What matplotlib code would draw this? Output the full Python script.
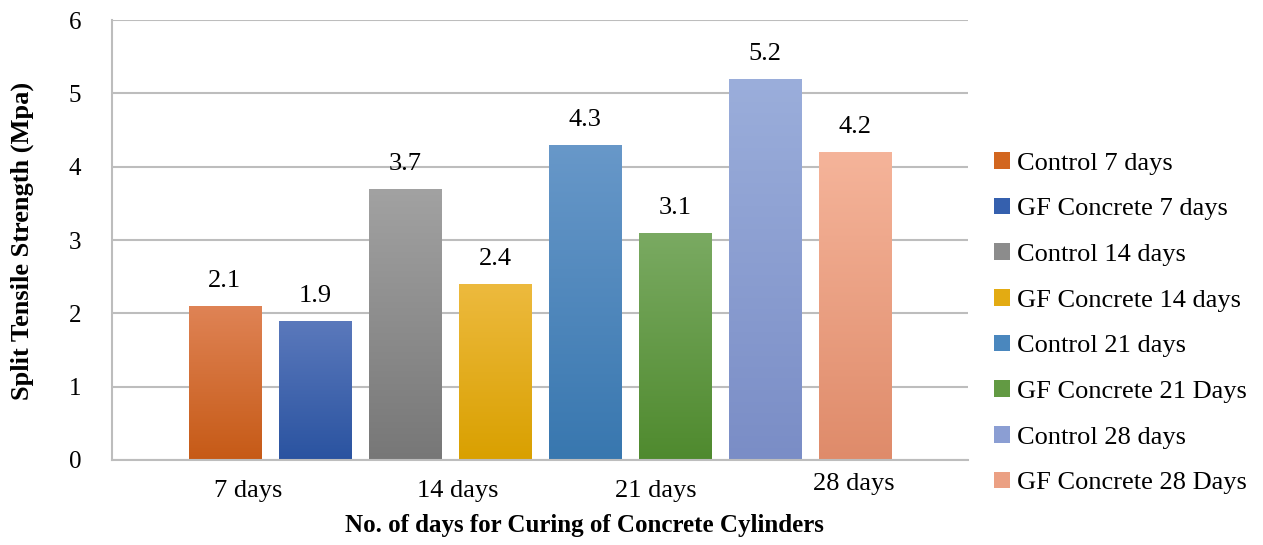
import numpy as np
import matplotlib.pyplot as plt
from matplotlib.colors import LinearSegmentedColormap
from matplotlib.patches import Patch

series = ["Control 7 days", "GF Concrete 7 days", "Control 14 days", "GF Concrete 14 days",
          "Control 21 days", "GF Concrete 21 Days", "Control 28 days", "GF Concrete 28 Days"]
strength = [2.1, 1.9, 3.7, 2.4, 4.3, 3.1, 5.2, 4.2]
group_labels = ["7 days", "14 days", "21 days", "28 days"]
group_pos = [0.26, 2.59, 4.78, 6.98]

# (top, bottom) colours for the gradient fill of each bar
top_colors = ["#DF8355", "#5B79BC", "#A2A2A2", "#EDBA3E", "#6898C9", "#7AAA62", "#9BAEDB", "#F5B49A"]
bottom_colors = ["#C65A16", "#2A53A0", "#777777", "#D9A000", "#3877AF", "#4F8A2E", "#7A8DC6", "#DF8B6A"]
legend_colors = ["#D2661F", "#3560AE", "#8C8C8C", "#E3AB12", "#4A87BE", "#629A43", "#8B9ED3", "#EBA083"]

plt.rcParams['font.family'] = ['Liberation Serif', 'DejaVu Serif']

fig = plt.figure(figsize=(12.63, 5.45), dpi=100)
ax = fig.add_axes([0.0887, 0.156, 0.6777, 0.807])

x = np.arange(len(strength))
bars = ax.bar(x, strength, width=0.8, color="none", zorder=2)

grad = np.linspace(0, 1, 256).reshape(-1, 1)
for b, top, bot in zip(bars, top_colors, bottom_colors):
    cmap = LinearSegmentedColormap.from_list("g", [bot, top])
    x0, w, h = b.get_x(), b.get_width(), b.get_height()
    im = ax.imshow(grad, extent=[x0, x0 + w, 0, h], origin="lower",
                   aspect="auto", cmap=cmap, zorder=2)
    im.set_clip_path(b)

for xi, v in zip(x, strength):
    ax.annotate(f"{v}", (xi, v), xytext=(0, 25), textcoords="offset pixels",
                ha="center", va="center", fontsize=19)

ax.set_xlim(-1.25, 8.25)
ax.set_ylim(0, 6)
ax.set_yticks(range(7))
ax.tick_params(axis="y", length=0, labelsize=18, pad=22)
ax.set_xticks([])
ax.grid(axis="y", color="#BDBDBD", linewidth=1.5, zorder=0)
ax.set_axisbelow(True)
for s in ["top", "right"]:
    ax.spines[s].set_visible(False)
for s in ["left", "bottom"]:
    ax.spines[s].set_color("#BDBDBD")
    ax.spines[s].set_linewidth(1.5)

for pos, lab in zip(group_pos, group_labels):
    dy = -31 if lab != "28 days" else -24
    ax.annotate(lab, (pos, 0), xytext=(0, dy), textcoords="offset pixels",
                ha="center", va="center", fontsize=19)

fig.text(0.463, 0.035, "No. of days for Curing of Concrete Cylinders",
         ha="center", va="center", fontsize=18, fontweight="bold")
fig.text(0.018, 0.558, "Split Tensile Strength (Mpa)", rotation=90,
         ha="center", va="center", fontsize=19, fontweight="bold")

handles = [Patch(facecolor=c, edgecolor="none") for c in legend_colors]
fig.legend(handles, series, loc="upper left", bbox_to_anchor=(0.787, 0.721),
           frameon=False, fontsize=19, handlelength=0.6, handleheight=0.6,
           handletextpad=0.27, labelspacing=0.87, borderpad=0, borderaxespad=0)

fig.savefig("out.png", dpi=100)
